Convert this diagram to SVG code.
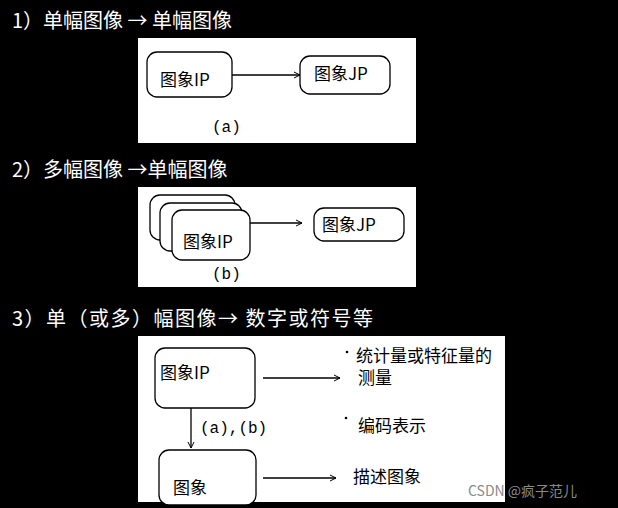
<svg xmlns="http://www.w3.org/2000/svg" width="618" height="508" viewBox="0 0 618 508">
<style>
.h{font-family:"Noto Sans CJK SC","Liberation Sans",sans-serif;font-size:20px;fill:#fff}
.t{font-family:"Noto Sans CJK SC","Liberation Sans",sans-serif;font-size:17px;fill:#000}
.s{font-family:"Liberation Mono",monospace;font-size:16px;fill:#000}
.n{fill:#fff;stroke:#000;stroke-width:1.3}
.c{stroke:#000;stroke-width:1.3;fill:none}
</style>
<defs><marker id="a" markerWidth="8" markerHeight="8" refX="7" refY="4" orient="auto" markerUnits="userSpaceOnUse"><path d="M1,1 L7,4 L1,7" fill="none" stroke="#000"/></marker></defs>
<rect width="618" height="508" fill="#000"/>
<text class="h" x="12" y="28">1）单幅图像 → 单幅图像</text>
<text class="h" x="12" y="177">2）多幅图像 →单幅图像</text>
<text class="h" x="12" y="326" letter-spacing="1.5">3）单（或多）幅图像→ 数字或符号等</text>
<rect x="138" y="38" width="278" height="105" fill="#fff"/>
<rect x="138" y="187" width="278" height="100" fill="#fff"/>
<rect x="138" y="336" width="367" height="166" fill="#fff"/>
<g id="p1-ip"><rect class="n" x="147" y="52" width="85" height="45" rx="10"/><text class="t" x="160" y="86">图象IP</text></g>
<g id="p1-jp"><rect class="n" x="300" y="56" width="90" height="38" rx="10"/><text class="t" x="314" y="80">图象JP</text></g>
<text class="s" x="212" y="132">(a)</text>
<g id="p2-ip"><rect class="n" x="150" y="195" width="85" height="45" rx="10"/><rect class="n" x="160" y="203" width="82" height="48" rx="10"/><rect class="n" x="172" y="210" width="78" height="50" rx="10"/><text class="t" x="183" y="248">图象IP</text></g>
<g id="p2-jp"><rect class="n" x="314" y="208" width="90" height="33" rx="10"/><text class="t" x="322" y="231">图象JP</text></g>
<text class="s" x="212" y="279">(b)</text>
<g id="p3-ip"><rect class="n" x="155" y="348" width="100" height="60" rx="10"/><text class="t" x="160" y="379">图象IP</text></g>
<g id="p3-img"><rect class="n" x="159" y="450" width="97" height="55" rx="10"/><text class="t" x="173" y="494">图象</text></g>
<g id="labels">
<circle cx="347" cy="352" r="1.3"/><text class="t" x="356" y="362">统计量或特征量的</text><text class="t" x="358" y="384">测量</text>
<circle cx="346" cy="418" r="1.3"/><text class="t" x="358" y="432">编码表示</text>
<text class="t" x="353" y="483">描述图象</text>
<text class="s" x="200" y="433">(a),(b)</text>
</g>
<g id="connectors">
<line class="c" x1="232" y1="75" x2="300" y2="75" marker-end="url(#a)"/>
<line class="c" x1="250" y1="223" x2="302" y2="223" marker-end="url(#a)"/>
<line class="c" x1="263" y1="378" x2="340" y2="378" marker-end="url(#a)"/>
<line class="c" x1="191" y1="408" x2="191" y2="448" marker-end="url(#a)"/>
<line class="c" x1="263" y1="478" x2="336" y2="478" marker-end="url(#a)"/>
</g>
<text x="468" y="496" font-family="Noto Sans CJK SC,Liberation Sans,sans-serif" font-size="14" fill="#8a8a8a">CSDN @疯子范儿</text>
</svg>
